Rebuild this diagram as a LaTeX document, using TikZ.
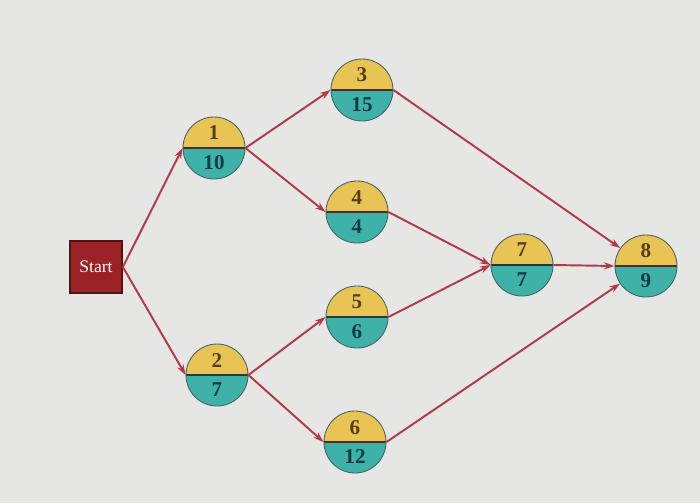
\documentclass[tikz,border=0pt]{standalone}
\usepackage{fontspec}
\setmainfont{Liberation Serif}
\usepackage{xcolor}
\usetikzlibrary{arrows.meta}
\definecolor{paper}{RGB}{230,230,228}
\definecolor{ylw}{RGB}{232,196,84}
\definecolor{tl}{RGB}{62,178,168}
\definecolor{rim}{RGB}{70,100,100}
\definecolor{startred}{RGB}{155,34,38}
\definecolor{startrim}{RGB}{80,20,20}
\definecolor{link}{RGB}{176,58,72}
\definecolor{topnum}{RGB}{85,62,20}
\definecolor{botnum}{RGB}{16,60,72}
\tikzset{
	event/.style={
			circle, draw=rim, line width=0.5pt, minimum size=1.24cm, inner sep=0pt,
			align=center, font=\large\bfseries,
			path picture={
					\fill[ylw] (path picture bounding box.north west) rectangle (path picture bounding box.east);
					\fill[tl] (path picture bounding box.west) rectangle (path picture bounding box.south east);
					\draw[line width=1.2pt, black!80] (path picture bounding box.west) -- (path picture bounding box.east);
				}
		},
	startbox/.style={
			rectangle, draw=startrim, line width=1pt, fill=startred,
			minimum size=1.04cm, inner sep=0pt, text=white
		},
	link/.style={draw=link, line width=1.1pt, -{Stealth[length=6pt,width=4pt]}}
}
\newcommand\ev[2]{\textcolor{topnum}{#1}\\[3pt]\textcolor{botnum}{#2}}

\begin{document}
\begin{tikzpicture}
            \fill[paper] (0,0) rectangle (14,10.06);
            \useasboundingbox (0,0) rectangle (14,10.06);
            \node[startbox] (s) at (1.92,4.72) {Start};
            \node[event] (n1) at (4.28,7.10) {\ev{1}{10}};
            \node[event] (n2) at (4.34,2.56) {\ev{2}{7}};
            \node[event] (n3) at (7.24,8.26) {\ev{3}{15}};
            \node[event] (n4) at (7.14,5.82) {\ev{4}{4}};
            \node[event] (n5) at (7.14,3.72) {\ev{5}{6}};
            \node[event] (n6) at (7.10,1.22) {\ev{6}{12}};
            \node[event] (n7) at (10.44,4.76) {\ev{7}{7}};
            \node[event] (n8) at (12.92,4.74) {\ev{8}{9}};
            \draw[link] (s.east) -- (n1.west);
            \draw[link] (s.east) -- (n2.west);
            \draw[link] (n1.east) -- (n3.west);
            \draw[link] (n1.east) -- (n4.west);
            \draw[link] (n2.east) -- (n5.west);
            \draw[link] (n2.east) -- (n6.west);
            \draw[link] (n3.east) -- (n8);
            \draw[link] (n4.east) -- (n7.west);
            \draw[link] (n5.east) -- (n7.west);
            \draw[link] (n7.east) -- (n8.west);
            \draw[link] (n6.east) -- (n8);
        \end{tikzpicture}
\end{document}
